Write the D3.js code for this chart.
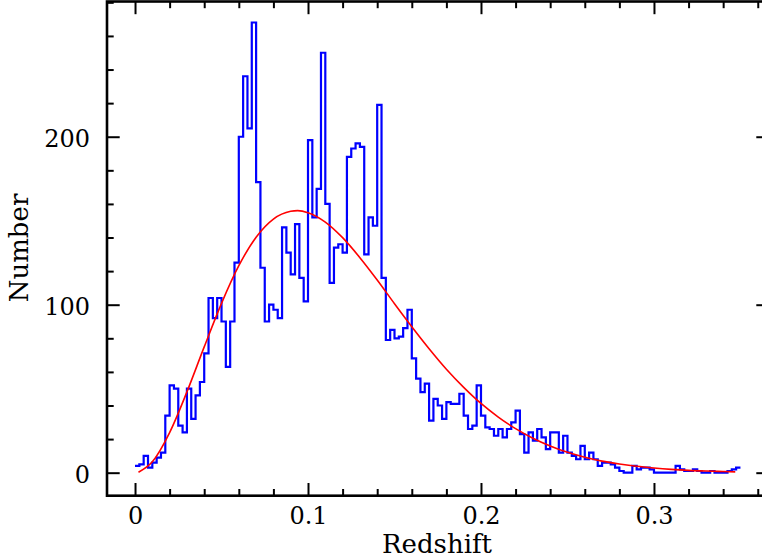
<!DOCTYPE html>
<html>
<head>
<meta charset="utf-8">
<script src="https://d3js.org/d3.v7.min.js"></script>
<style>
  body { margin: 0; background: #fff; }
  svg { display: block; }
  .axis text { font-family: "DejaVu Serif", serif; font-size: 24px; fill: #000; }
  .axis line { stroke: #000; stroke-width: 2px; }
  .axis path { display: none; }
  .title { font-family: "DejaVu Serif", serif; font-size: 26px; fill: #000; }
</style>
</head>
<body>
<div id="chart"></div>
<script>
  // histogram of redshifts, bins of 0.0025 starting at z = 0
  var binWidth = 0.0025;
  var counts = [
    4, 5, 10, 3, 6, 9, 12, 34, 52, 50,
    28, 24, 50, 32, 46, 54, 71, 104, 92, 104,
    90, 63, 90, 125, 200, 236, 205, 268, 173, 122,
    90, 100, 97, 92, 146, 131, 118, 148, 116, 102,
    198, 152, 169, 250, 160, 113, 134, 136, 131, 188,
    193, 196, 194, 130, 152, 147, 219, 116, 79, 85,
    80, 81, 86, 97, 68, 56, 48, 53, 31, 44,
    40, 32, 42, 41, 41, 47, 34, 26, 28, 52,
    34, 27, 26, 22, 26, 21, 26, 30, 37, 23,
    12, 24, 19, 26, 21, 14, 24, 24, 12, 22,
    12, 10, 8, 16, 8, 12, 8, 4, 6, 6,
    5, 3, 1, 0, 0, 4, 2, 3, 3, 2,
    0, 0, 0, 0, 0, 4, 2, 1, 1, 2,
    1, 0, 0, 1, 0, 0, 0, 1, 2, 3
  ];

  // smooth fitted curve
  var fitZ = [0.002, 0.01, 0.02, 0.03, 0.04, 0.05, 0.06, 0.07, 0.08, 0.09,
              0.094, 0.10, 0.11, 0.12, 0.13, 0.14, 0.15, 0.16, 0.17, 0.18, 0.19,
              0.20, 0.21, 0.22, 0.23, 0.24, 0.25, 0.26, 0.27, 0.28, 0.29,
              0.30, 0.31, 0.32, 0.33, 0.34, 0.347];
  var fitN = [0.3, 6.5, 23.9, 48.1, 74.9, 100.8, 123.2, 140.2, 151.0, 155.6,
              156.0, 154.8, 149.2, 139.9, 128.0, 114.7, 100.6, 86.9, 73.8, 61.6, 50.8,
              41.2, 33.1, 26.2, 20.5, 15.9, 12.1, 9.2, 6.9, 5.2, 3.8,
              2.8, 2.0, 1.4, 1.0, 0.7, 0.5];

  var xMajor = [0, 0.1, 0.2, 0.3];
  var xMinor = [0.02, 0.04, 0.06, 0.08, 0.12, 0.14, 0.16, 0.18, 0.22, 0.24,
                0.26, 0.28, 0.32, 0.34, 0.36];
  var yMajor = [0, 100, 200];
  var yMinor = [20, 40, 60, 80, 120, 140, 160, 180, 220, 240, 260, 280];

  var width = 762,
      height = 560;
  var plotLeft = 107, plotRight = 769, plotTop = 1.5, plotBottom = 495.7;

  var svg = d3.select("#chart")
      .append("svg")
      .attr("width", width)
      .attr("height", height);

  var x = d3.scaleLinear().domain([-0.0162, 0.3665]).range([plotLeft, plotRight]);
  var y = d3.scaleLinear().domain([-13.7, 280.5]).range([plotBottom, plotTop]);

  var majorLen = 12.7, minorLen = 6.7;

  // ticks, all pointing inwards
  function xTicks(axisFn, ypos, vals, len, labels) {
    var ax = axisFn(x).tickValues(vals).tickSize(-len).tickPadding(11.3)
        .tickFormat(labels ? function(d) { return d === 0 ? "0" : d3.format(".1f")(d); } : "");
    svg.append("g").attr("class", "axis")
        .attr("transform", "translate(0," + ypos + ")")
        .call(ax);
  }
  function yTicks(axisFn, xpos, vals, len, labels) {
    var ax = axisFn(y).tickValues(vals).tickSize(-len).tickPadding(17)
        .tickFormat(labels ? d3.format("d") : "");
    var g = svg.append("g").attr("class", "axis")
        .attr("transform", "translate(" + xpos + ",0)")
        .call(ax);
    g.selectAll("text").attr("dy", "0.42em");
  }

  xTicks(d3.axisBottom, plotBottom, xMajor, majorLen, true);
  xTicks(d3.axisBottom, plotBottom, xMinor, minorLen, false);
  xTicks(d3.axisTop, plotTop, xMajor, majorLen, false);
  xTicks(d3.axisTop, plotTop, xMinor, minorLen, false);
  yTicks(d3.axisLeft, plotLeft, yMajor, majorLen, true);
  yTicks(d3.axisLeft, plotLeft, yMinor, minorLen, false);
  yTicks(d3.axisRight, plotRight, yMajor, majorLen, false);
  yTicks(d3.axisRight, plotRight, yMinor, minorLen, false);

  // histogram as a step line
  var steps = counts.map(function(c, i) { return [i * binWidth, c]; });
  steps.push([counts.length * binWidth, counts[counts.length - 1]]);

  var stepLine = d3.line()
      .x(function(d) { return x(d[0]); })
      .y(function(d) { return y(d[1]); })
      .curve(d3.curveStepAfter);

  svg.append("path")
      .datum(steps)
      .attr("d", stepLine)
      .attr("fill", "none")
      .attr("stroke", "#0000ff")
      .attr("stroke-width", 2.2);

  var fitLine = d3.line()
      .x(function(d, i) { return x(fitZ[i]); })
      .y(function(d) { return y(d); })
      .curve(d3.curveMonotoneX);

  svg.append("path")
      .datum(fitN)
      .attr("d", fitLine)
      .attr("fill", "none")
      .attr("stroke", "#ff0000")
      .attr("stroke-width", 1.6);

  // frame
  svg.append("rect")
      .attr("x", plotLeft).attr("y", plotTop)
      .attr("width", plotRight - plotLeft).attr("height", plotBottom - plotTop)
      .attr("fill", "none")
      .attr("stroke", "#000")
      .attr("stroke-width", 2.6);

  svg.append("text")
      .attr("class", "title")
      .attr("x", 437)
      .attr("y", 552.5)
      .attr("text-anchor", "middle")
      .text("Redshift");

  svg.append("text")
      .attr("class", "title")
      .attr("transform", "translate(28,248) rotate(-90)")
      .attr("text-anchor", "middle")
      .text("Number");
</script>
</body>
</html>
